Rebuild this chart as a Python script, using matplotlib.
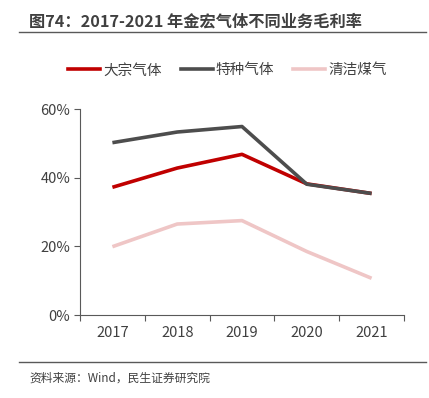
import numpy as np
import matplotlib.pyplot as plt
from matplotlib.lines import Line2D

plt.rcParams['font.family'] = ['Noto Sans CJK SC', 'DejaVu Sans']

# -------- DATA ----------------------------
years = ['2017', '2018', '2019', '2020', '2021']
bulk_gas = [37.2, 42.8, 46.8, 38.2, 35.4]      # 大宗气体
special_gas = [50.2, 53.3, 54.9, 38.1, 35.4]   # 特种气体
clean_coal = [19.9, 26.5, 27.5, 18.5, 10.7]    # 清洁煤气
yticks = [0, 20, 40, 60]

title = '图74：2017-2021 年金宏气体不同业务毛利率'
source = '资料来源：Wind，民生证券研究院'

red = '#C00000'
gray = '#4D4D4D'
pink = '#EFC6C6'
txt = '#404040'

# -------- PLOTTING -------------------------------
fig = plt.figure(figsize=(4.29, 3.98), dpi=100)
ax = fig.add_axes([0.1865, 0.2085, 0.7552, 0.5176])

x = np.arange(len(years))
ax.plot(x, clean_coal, color=pink, linewidth=2.6, solid_capstyle='butt')
ax.plot(x, bulk_gas, color=red, linewidth=2.6, solid_capstyle='butt')
ax.plot(x, special_gas, color=gray, linewidth=2.6, solid_capstyle='butt')

ax.set_xlim(-0.5, len(years) - 0.5)
ax.set_ylim(0, 60)
ax.set_yticks(yticks)
ax.set_yticklabels([f'{v}%' for v in yticks])
ax.set_xticks(np.arange(-0.5, len(years), 1.0))
ax.set_xticklabels([])
ax.set_xticks(x, minor=True)
ax.set_xticklabels(years, minor=True)
ax.tick_params(axis='x', which='major', length=4, color='#595959', width=0.8)
ax.tick_params(axis='x', which='minor', length=0, pad=8, labelsize=10.5, labelcolor=txt)
ax.tick_params(axis='y', length=4, color='#595959', width=0.8, labelsize=10.5, labelcolor=txt, pad=3)

for s in ['top', 'right']:
    ax.spines[s].set_visible(False)
for s in ['left', 'bottom']:
    ax.spines[s].set_color('#595959')
    ax.spines[s].set_linewidth(0.8)

# legend
handles = [Line2D([], [], color=red, linewidth=2.6),
           Line2D([], [], color=gray, linewidth=2.6),
           Line2D([], [], color=pink, linewidth=2.6)]
fig.legend(handles, ['大宗气体', '特种气体', '清洁煤气'], loc='center',
           bbox_to_anchor=(0.53, 0.823), ncol=3, frameon=False,
           fontsize=10.5, labelcolor=txt, handlelength=2.2,
           handletextpad=0.2, columnspacing=1.3)

# title and source
fig.text(0.068, 0.945, title, fontsize=11.7, fontweight='bold', color=txt,
         va='center', ha='left')
fig.add_artist(Line2D([0.044, 0.993], [0.92, 0.92], color='#595959', linewidth=1.0))
fig.add_artist(Line2D([0.044, 0.993], [0.09, 0.09], color='#595959', linewidth=1.0))
fig.text(0.068, 0.05, source, fontsize=8.5, color='#404040', va='center', ha='left')

plt.savefig('out.png', dpi=100)
